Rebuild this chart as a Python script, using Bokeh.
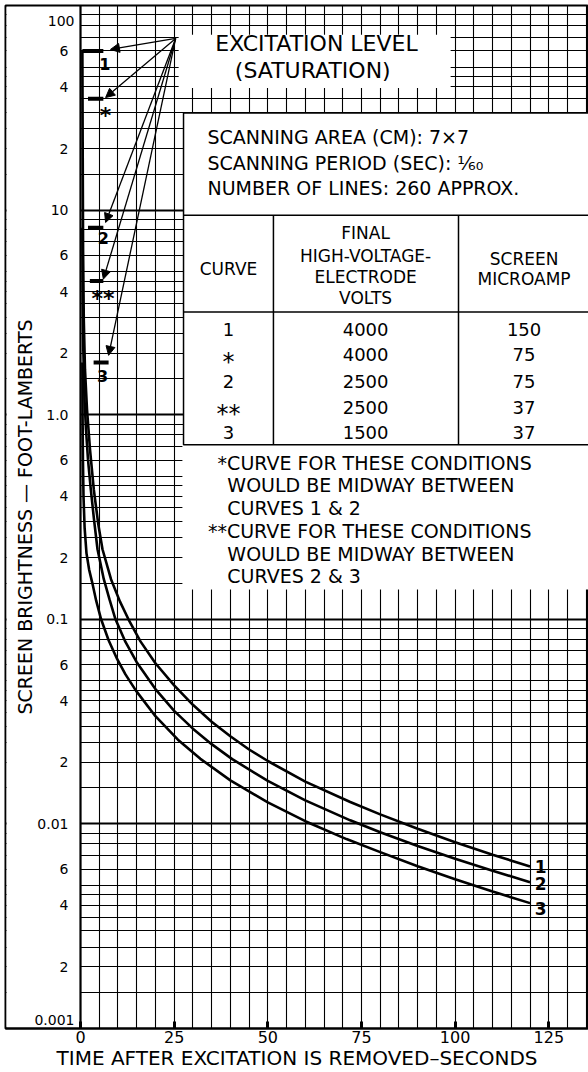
import numpy as np
from bokeh.plotting import figure
from bokeh.models import (FixedTicker, Grid, Range1d, Arrow, NormalHead, ColumnDataSource)
from bokeh.core.properties import value
from bokeh.embed import file_html
from bokeh.resources import INLINE

FONT = "DejaVu Sans"

# ---------------- data ----------------
curve1_x = [0.5, 0.59, 0.69, 0.88, 1.2, 1.74, 2.54, 3.55, 4.75, 5.87, 8.14, 10.54, 12.8, 16, 20, 25, 30, 35, 40, 45, 50, 60, 72, 80, 90, 100, 110, 120]
curve1_y = [60, 19.6, 6.38, 2.9, 1.66, 1.06, 0.675, 0.431, 0.291, 0.22, 0.157, 0.122, 0.1, 0.078, 0.061, 0.0475, 0.0382, 0.0316, 0.0268, 0.0231, 0.0203, 0.0161, 0.0128, 0.01113, 0.00946, 0.00814, 0.00707, 0.00619]

curve2_x = [0.5, 0.59, 0.75, 1.07, 1.47, 2.0, 2.75, 3.6, 4.54, 6.22, 7.74, 9.34, 12, 15, 20, 25, 30, 35, 40.5, 50, 60, 72, 80, 90, 100, 110, 120]
curve2_y = [8.2, 3.64, 2.07, 1.18, 0.845, 0.603, 0.431, 0.308, 0.22, 0.157, 0.125, 0.1, 0.0775, 0.0617, 0.0456, 0.0357, 0.0292, 0.02453, 0.02074, 0.01622, 0.01303, 0.01041, 0.0091, 0.0078, 0.00676, 0.0059, 0.00519]

curve3_x = [0.5, 0.55, 0.65, 0.8, 1.1, 1.6, 2.3, 3.1, 4.2, 5.5, 7.5, 9.8, 12, 14.8, 20, 26, 32, 40, 50, 60, 71, 80, 90, 100, 110, 120]
curve3_y = [1.8, 1.0, 0.6, 0.4, 0.28, 0.21, 0.175, 0.152, 0.123, 0.1, 0.079, 0.0638, 0.0538, 0.0448, 0.0336, 0.0258, 0.0208, 0.01633, 0.01274, 0.01031, 0.00843, 0.00728, 0.00621, 0.00536, 0.00467, 0.0041]

curve_names = ["1", "2", "3"]

# saturation (excitation) levels: curve 1, *, 2, **, 3
sat_names = ["1", "*", "2", "**", "3"]
sat_levels = [60, 35, 8.2, 4.5, 1.8]

# table
table_curve = ["1", "*", "2", "**", "3"]
table_volts = ["4000", "4000", "2500", "2500", "1500"]
table_micro = ["150", "75", "75", "37", "37"]

x_ticks = [0, 25, 50, 75, 100, 125]
y_ticks = [0.002, 0.004, 0.006, 0.01, 0.02, 0.04, 0.06, 0.1, 0.2, 0.4, 0.6,
           1, 2, 4, 6, 10, 20, 40, 60]
y_tick_labels = ["2", "4", "6", "0.01", "2", "4", "6", "0.1", "2", "4", "6",
                 "1.0", "2", "4", "6", "10", "2", "4", "6"]
# the two end labels sit just inside the top and bottom edges
end_values = [100, 0.001]
end_labels = ["100", "0.001"]

# grid
x_grid = list(range(0, 140, 5))
decades = [0.001, 0.01, 0.1, 1, 10, 100]
mults = [1, 1.5, 2, 2.5, 3, 3.5, 4, 4.5, 5, 6, 7, 8, 9]
y_grid = [d * m for d in decades[:-1] for m in mults] + [100]

X_MIN, X_MAX = -20.02, 135.6
Y_MIN, Y_MAX = 0.001, 100

# ---------------- figure ----------------
p = figure(width=588, height=1072, x_range=Range1d(X_MIN, X_MAX), y_range=Range1d(Y_MIN, Y_MAX),
           y_axis_type="log", output_backend="svg", toolbar_location=None,
           min_border_left=5, min_border_right=0, min_border_top=5, min_border_bottom=43)
p.background_fill_color = "white"
p.border_fill_color = "white"
p.outline_line_color = "black"
p.outline_line_width = 2

# grids
p.xgrid.ticker = FixedTicker(ticks=x_grid)
p.xgrid.grid_line_color = "black"
p.xgrid.grid_line_width = 1.1
p.ygrid.ticker = FixedTicker(ticks=y_grid)
p.ygrid.grid_line_color = "black"
p.ygrid.grid_line_width = 1.1
p.add_layout(Grid(dimension=1, ticker=FixedTicker(ticks=decades), grid_line_color="black",
                  grid_line_width=2.2))

# blank the label strip left of x = 0 (grid lines only run inside the chart)
p.quad(left=[X_MIN + 0.3], right=[0], top=[98], bottom=[0.00102], fill_color="white", line_color=None)

# x axis
xa = p.xaxis[0]
xa.ticker = FixedTicker(ticks=x_ticks, minor_ticks=[])
xa.major_tick_in = 7
xa.major_tick_out = 0
xa.major_tick_line_width = 3
xa.minor_tick_line_color = None
xa.axis_line_width = 2
xa.major_label_standoff = 2
xa.major_label_text_font = FONT
xa.major_label_text_font_size = "16px"
xa.major_label_text_color = "black"
xa.axis_label = "TIME AFTER EXCITATION IS REMOVED\u2013SECONDS"
xa.axis_label_text_font = FONT
xa.axis_label_text_font_size = "20px"
xa.axis_label_text_font_style = "normal"
xa.axis_label_standoff = 0
xa.axis_label_text_color = "black"

# y axis, pinned at x = 0 inside the frame
ya = p.yaxis[0]
ya.fixed_location = 0
ya.ticker = FixedTicker(ticks=y_ticks, minor_ticks=[])
ya.major_label_overrides = {t: s for t, s in zip(y_ticks, y_tick_labels)}
ya.major_tick_line_color = None
ya.minor_tick_line_color = None
ya.axis_line_width = 2.2
ya.major_label_standoff = 6
ya.major_label_text_font = FONT
ya.major_label_text_font_size = "14px"
ya.major_label_text_color = "black"
ya.axis_label = "SCREEN BRIGHTNESS \u2014 FOOT-LAMBERTS"
ya.axis_label_text_font = FONT
ya.axis_label_text_font_size = "19px"
ya.axis_label_text_font_style = "normal"
ya.axis_label_standoff = -2
ya.axis_label_text_color = "black"

p.text(x=[0, 0], y=end_values, text=end_labels, x_offset=-6, y_offset=[15, -9], text_align="right",
       text_baseline="middle", text_font=value(FONT), text_font_size=value("14px"))

# ---------------- white panels ----------------
p.quad(left=[27.2], right=[140], top=[0.714], bottom=[0.14], fill_color="white", line_color=None)
p.quad(left=[26.2], right=[98.8], top=[72], bottom=[39.5], fill_color="white", line_color=None)
p.quad(left=[27.5], right=[140], top=[29.8], bottom=[0.714], fill_color="white",
       line_color="black", line_width=1.5)
p.segment(x0=[27.5, 27.5], y0=[9.45, 3.18], x1=[140, 140], y1=[9.45, 3.18],
          line_color="black", line_width=1.5)
p.segment(x0=[51.5, 100.9], y0=[9.45, 9.45], x1=[51.5, 100.9], y1=[0.714, 0.714],
          line_color="black", line_width=1.5)


def txt(x, y, s, size="17px", align="left", style="normal"):
    p.text(x=[x], y=[y], text=[s], text_font=value(FONT), text_font_size=value(size),
           text_align=align, text_baseline="middle", text_color="black",
           text_font_style=style)


txt(33.9, 22.7, "SCANNING AREA (CM): 7\u00d77", size="19px")
txt(33.9, 16.9, "SCANNING PERIOD (SEC): \u00b9\u2044\u2086\u2080", size="19px")
txt(33.9, 12.8, "NUMBER OF LINES: 260 APPROX.", size="19px")

txt(39.5, 5.14, "CURVE", align="center")
for yy, s in zip([7.74, 5.96, 4.71, 3.72], ["FINAL", "HIGH-VOLTAGE-", "ELECTRODE", "VOLTS"]):
    txt(76.1, yy, s, align="center")
for yy, s in zip([5.8, 4.6], ["SCREEN", "MICROAMP"]):
    txt(118.4, yy, s, align="center")

row_y = [2.60, 1.96, 1.45, 1.088, 0.814]
star_off = [7 if "*" in s else 0 for s in table_curve]
star_size = ["24px" if "*" in s else "18px" for s in table_curve]
src_tab = ColumnDataSource(dict(y=row_y, c=table_curve, v=table_volts, m=table_micro,
                                off=star_off, fs=star_size))
p.text(x=39.5, y="y", text="c", source=src_tab, y_offset="off", text_font=value(FONT),
       text_font_size="fs", text_align="center", text_baseline="middle")
for col, xx in [("v", 76.1), ("m", 118.4)]:
    p.text(x=xx, y="y", text=col, source=src_tab, text_font=value(FONT),
           text_font_size=value("18px"), text_align="center", text_baseline="middle")

notes = ["*CURVE FOR THESE CONDITIONS", "WOULD BE MIDWAY BETWEEN", "CURVES 1 & 2",
         "**CURVE FOR THESE CONDITIONS", "WOULD BE MIDWAY BETWEEN", "CURVES 2 & 3"]
notes_y = [0.583, 0.451, 0.349, 0.270, 0.209, 0.162]
notes_x = [36.6, 39.2, 39.2, 34.0, 39.2, 39.2]
for xx, yy, s in zip(notes_x, notes_y, notes):
    txt(xx, yy, s, size="19px")

txt(63.0, 65.3, "EXCITATION LEVEL", size="22px", align="center")
txt(62.0, 48.2, "(SATURATION)", size="22px", align="center")

# ---------------- curves ----------------
for xs, ys in [(curve1_x, curve1_y), (curve2_x, curve2_y), (curve3_x, curve3_y)]:
    p.line(xs, ys, line_color="black", line_width=2.6)

p.text(x=[122.8, 122.8, 122.8], y=[0.00617, 0.00509, 0.00385], text=curve_names,
       text_font=value(FONT), text_font_size=value("17px"), text_font_style="bold",
       text_align="center", text_baseline="middle")

# saturation marks
mark_x0 = [0.5, 2.0, 2.0, 2.5, 3.5]
mark_x1 = [6.1, 6.1, 6.1, 6.1, 7.5]
p.segment(x0=mark_x0, y0=sat_levels, x1=mark_x1, y1=sat_levels, line_color="black", line_width=4)
src_lab = ColumnDataSource(dict(x=[6.5, 6.7, 6.1, 6.0, 5.9], y=[51.8, 31.4, 7.3, 4.0, 1.54],
                                t=sat_names, off=star_off,
                                fs=["16px" if "*" not in s else "22px" for s in sat_names]))
p.text(x="x", y="y", text="t", source=src_lab, y_offset="off", text_font=value(FONT),
       text_font_size="fs", text_font_style="bold", text_align="center", text_baseline="middle")

# arrows from excitation label to each saturation mark
apex = (25.4, 69)
arr = ColumnDataSource(dict(xs=[apex[0]] * 5, ys=[apex[1]] * 5,
                            xe=[8.0, 6.7, 6.7, 6.1, 7.5],
                            ye=[61, 35.5, 8.7, 4.6, 1.95]))
p.add_layout(Arrow(source=arr, x_start="xs", y_start="ys", x_end="xe", y_end="ye",
                   line_color="black", line_width=1.3,
                   end=NormalHead(size=9, fill_color="black", line_color="black")))

open("out.html", "w").write(file_html(p, INLINE))
